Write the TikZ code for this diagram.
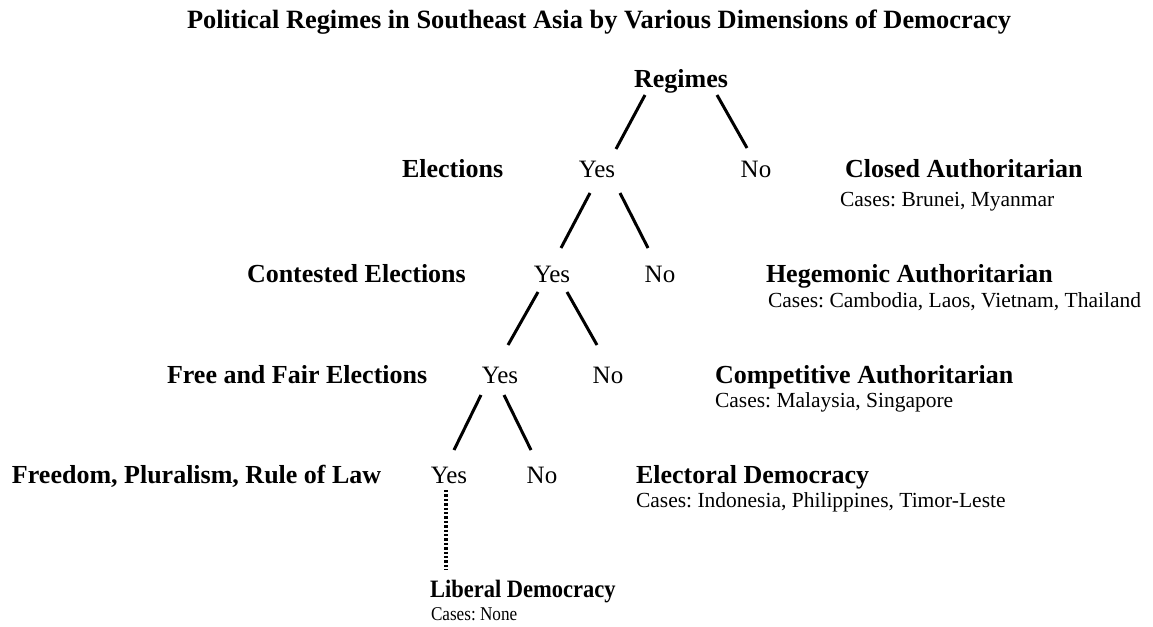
\documentclass[tikz,border=0pt]{standalone}
\usepackage{fontspec}
\setmainfont{Liberation Serif}
\usetikzlibrary{calc}
\tikzset{
  every node/.style={inner sep=0pt, outer sep=0pt},
  dim/.style={anchor=base west, font=\fontsize{26}{30}\selectfont\bfseries},
  yn/.style={anchor=base, font=\fontsize{25}{30}\selectfont},
  regime/.style={anchor=base west, font=\fontsize{26}{30}\selectfont\bfseries},
  cases/.style={anchor=base west, font=\fontsize{21.5}{26}\selectfont},
  branch/.style={line width=3pt},
  dots/.style={line width=3.5pt, dash pattern=on 2.4pt off 2pt},
}
\begin{document}
\frenchspacing
\begin{tikzpicture}[x=1pt,y=-1pt]
\useasboundingbox (0,0) rectangle (1153,626);
\node[anchor=base, font=\fontsize{26.4}{30}\selectfont\bfseries] (title) at (599,29) {Political Regimes in Southeast Asia by Various Dimensions of Democracy};
\node[anchor=base, font=\fontsize{26}{30}\selectfont\bfseries] (reg) at (681,88) {Regimes};
% level 1
\node[dim] (d1) at (402,177) {Elections};
\node[yn] (y1) at (597,177) {Yes};
\node[yn] (n1) at (756,177) {No};
\node[regime] (r1) at (845,177) {Closed Authoritarian};
\node[cases] (c1) at (840,206) {Cases: Brunei, Myanmar};
% level 2
\node[dim] (d2) at (247,282) {Contested Elections};
\node[yn] (y2) at (552,282) {Yes};
\node[yn] (n2) at (660,282) {No};
\node[regime] (r2) at (766,282) {Hegemonic Authoritarian};
\node[cases] (c2) at (768,307) {Cases: Cambodia, Laos, Vietnam, Thailand};
% level 3
\node[dim] (d3) at (167,383) {Free and Fair Elections};
\node[yn] (y3) at (500,383) {Yes};
\node[yn] (n3) at (608,383) {No};
\node[regime] (r3) at (715,383) {Competitive Authoritarian};
\node[cases] (c3) at (715,407) {Cases: Malaysia, Singapore};
% level 4
\node[dim] (d4) at (12,483) {Freedom, Pluralism, Rule of Law};
\node[yn] (y4) at (449,483) {Yes};
\node[yn] (n4) at (542,483) {No};
\node[regime] (r4) at (636,483) {Electoral Democracy};
\node[cases] (c4) at (636,507) {Cases: Indonesia, Philippines, Timor-Leste};
% liberal democracy
\node[regime, font=\fontsize{25}{28}\selectfont\bfseries, xscale=0.9, transform shape] (r5) at (430,597) {Liberal Democracy};
\node[cases, font=\fontsize{19.5}{23}\selectfont, xscale=0.88, transform shape] (c5) at (431,620) {Cases: None};
% branches
\draw[branch] ($(reg.base)+(-36,7)$) -- ($(y1.base)+(19,-28)$);
\draw[branch] ($(reg.base)+(36,7)$) -- ($(n1.base)+(-9,-29)$);
\draw[branch] ($(y1.base)+(-7,16)$) -- ($(y2.base)+(9,-34)$);
\draw[branch] ($(y1.base)+(23,16)$) -- ($(n2.base)+(-12,-34)$);
\draw[branch] ($(y2.base)+(-14,10)$) -- ($(y3.base)+(8,-38)$);
\draw[branch] ($(y2.base)+(15,10)$) -- ($(n3.base)+(-11,-38)$);
\draw[branch] ($(y3.base)+(-19,12)$) -- ($(y4.base)+(5,-33)$);
\draw[branch] ($(y3.base)+(4,12)$) -- ($(n4.base)+(-11,-33)$);
\draw[dots] ($(y4.base)+(-3,7)$) -- ($(y4.base)+(-3,87)$);
\end{tikzpicture}
\end{document}
